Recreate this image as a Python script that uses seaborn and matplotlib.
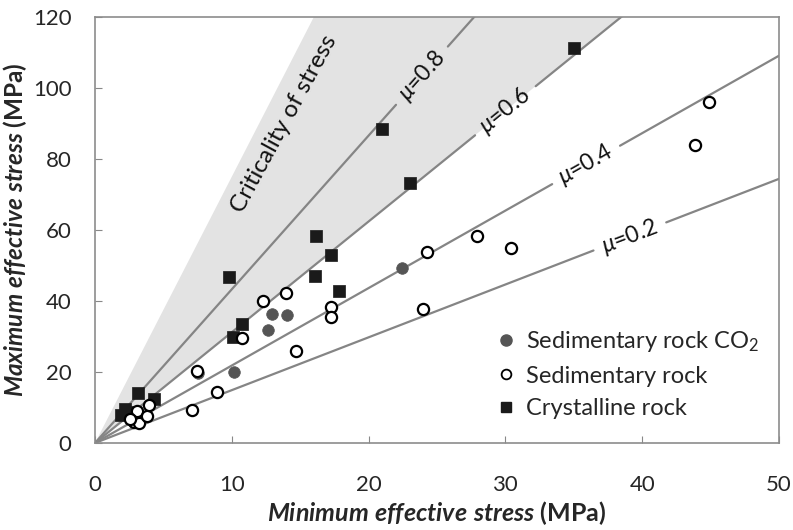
import numpy as np
import pandas as pd
import seaborn as sns
import matplotlib.pyplot as plt
from matplotlib.lines import Line2D

# friction coefficients of the reference lines and where their labels sit
mu_values = [0.2, 0.4, 0.6, 0.8]
mu_label_x = [39.1, 35.9, 30.0, 23.9]
crit_upper_slope = 7.5

# sedimentary rock, CO2 sites
co2_x = [7.55, 10.16, 12.67, 12.92, 14.06, 22.42]
co2_y = [19.6, 20.0, 31.8, 36.3, 36.1, 49.4]

# sedimentary rock
sed_x = [2.87, 3.22, 3.07, 3.78, 3.95, 2.58, 7.09, 7.43, 8.94, 10.75, 12.30, 13.96,
         14.69, 17.23, 17.23, 24.0, 24.29, 27.90, 30.41, 43.88, 44.88]
sed_y = [6.0, 5.7, 9.1, 7.6, 10.7, 6.7, 9.4, 20.4, 14.4, 29.5, 39.9, 42.2,
         25.9, 38.2, 35.6, 37.7, 53.9, 58.4, 55.0, 83.9, 96.0]

# crystalline rock
cry_x = [1.90, 2.34, 2.19, 3.12, 4.33, 9.82, 10.07, 10.72, 16.08, 16.13, 17.23,
         17.86, 20.96, 23.03, 35.01]
cry_y = [7.8, 8.7, 9.7, 14.2, 12.5, 46.7, 29.9, 33.5, 47.0, 58.3, 53.0,
         42.9, 88.5, 73.2, 111.2]

sns.set_style('white')
plt.rcParams['font.family'] = ['Lato', 'DejaVu Sans']
plt.rcParams['mathtext.fontset'] = 'custom'
plt.rcParams['mathtext.rm'] = 'Lato'
plt.rcParams['mathtext.it'] = 'Lato:italic'
plt.rcParams['mathtext.bf'] = 'Lato:bold'
plt.rcParams['mathtext.bfit'] = 'Lato:italic:bold'

fig = plt.figure(figsize=(7.93, 5.30), dpi=100)
ax = fig.add_axes([0.1198, 0.1642, 0.8625, 0.8038])
ax.set_xlim(0, 50)
ax.set_ylim(0, 120)

px_x = 0.8625 * 793 / 50
px_y = 0.8038 * 530 / 120

line_col = '#858585'
xs = np.array([0, 50])
ax.fill_between(xs, 3.12 * xs, crit_upper_slope * xs, color='#e3e3e3', lw=0, zorder=0)

for mu, xc in zip(mu_values, mu_label_x):
    k = (np.sqrt(mu ** 2 + 1) + mu) ** 2
    theta = np.degrees(np.arctan(k * px_y / px_x))
    dx = 39 * np.cos(np.radians(theta)) / px_x
    ax.plot([0, xc - dx], [0, k * (xc - dx)], color=line_col, lw=1.6, zorder=1)
    ax.plot([xc + dx, 50], [k * (xc + dx), k * 50], color=line_col, lw=1.6, zorder=1)
    ax.text(xc, k * xc, r'$\mu$=' + f'{mu:.1f}', rotation=theta, rotation_mode='anchor',
            ha='center', va='center', fontsize=16.5, color='#111111')

ax.text(13.8, 90.0, 'Criticality of stress', rotation=61.5, rotation_mode='anchor',
        ha='center', va='center', fontsize=17.5, color='#111111')

sns.scatterplot(x=cry_x, y=cry_y, marker='s', s=70, color='#1a1a1a', edgecolor='#1a1a1a',
                linewidth=0.5, ax=ax, zorder=3)
sns.scatterplot(x=co2_x, y=co2_y, marker='o', s=70, color='#555555', edgecolor='#555555',
                linewidth=0.5, ax=ax, zorder=3)
sns.scatterplot(x=sed_x, y=sed_y, marker='o', s=65, facecolor='white', edgecolor='black',
                linewidth=1.6, ax=ax, zorder=4)

handles = [
    Line2D([], [], marker='o', ls='', ms=8, color='#555555'),
    Line2D([], [], marker='o', ls='', ms=7, mfc='white', mec='black', mew=1.3),
    Line2D([], [], marker='s', ls='', ms=7, color='#1a1a1a'),
]
labels = ['Sedimentary rock CO$_2$', 'Sedimentary rock', 'Crystalline rock']
ax.legend(handles, labels, loc='upper left', bbox_to_anchor=(0.583, 0.268),
          frameon=False, fontsize=17, labelspacing=0.5, handletextpad=0.35,
          handlelength=1.0, borderpad=0, borderaxespad=0)

ax.set_xticks([0, 10, 20, 30, 40, 50])
ax.set_yticks([0, 20, 40, 60, 80, 100, 120])
ax.tick_params(axis='both', direction='in', length=5, color='#888888', labelsize=16,
               bottom=True, left=True)
ax.tick_params(axis='x', pad=23)
ax.tick_params(axis='y', pad=17)
for sp in ax.spines.values():
    sp.set_color('#8c8c8c')
    sp.set_linewidth(1.2)

ax.set_xlabel(r'$\mathbfit{Minimum\ effective\ stress}$ (MPa)', fontsize=18,
              fontweight='bold', labelpad=3)
ax.set_ylabel(r'$\mathbfit{Maximum\ effective\ stress}$ (MPa)', fontsize=17.5,
              fontweight='bold')
ax.yaxis.set_label_coords(-0.097, 0.5)

fig.savefig('out.png', dpi=100)
